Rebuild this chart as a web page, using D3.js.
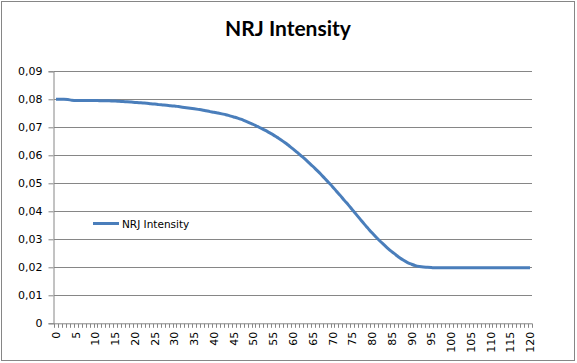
<!DOCTYPE html>
<html>
<head>
<meta charset="utf-8">
<script src="https://cdn.jsdelivr.net/npm/d3@7"></script>
<style>
    body { margin: 0; background: #fff; }
    svg { display: block; }
    text { font-family: "DejaVu Sans", Verdana, sans-serif; fill: #000; }
</style>
</head>
<body>
<div id="chart"></div>
<script>
// chart data
const title = "NRJ Intensity";
const seriesName = "NRJ Intensity";
const categories = d3.range(0, 121);
const intensity = [
    0.0800, 0.0800, 0.0800, 0.0799, 0.0797, 0.0796, 0.0796, 0.0796, 0.0796, 0.0796,
    0.0796, 0.0795, 0.0795, 0.0795, 0.0794, 0.0794, 0.0793, 0.0792, 0.0791, 0.0790,
    0.0789, 0.0788, 0.0787, 0.0786, 0.0784, 0.0783, 0.0781, 0.0780, 0.0779, 0.0777,
    0.0776, 0.0774, 0.0772, 0.0770, 0.0768, 0.0766, 0.0764, 0.0762, 0.0759, 0.0756,
    0.0754, 0.0751, 0.0748, 0.0745, 0.0741, 0.0737, 0.0733, 0.0728, 0.0722, 0.0716,
    0.0710, 0.0703, 0.0696, 0.0689, 0.0681, 0.0673, 0.0664, 0.0655, 0.0645, 0.0634,
    0.0623, 0.0611, 0.0599, 0.0587, 0.0574, 0.0561, 0.0547, 0.0533, 0.0518, 0.0503,
    0.0488, 0.0472, 0.0456, 0.0439, 0.0423, 0.0406, 0.0389, 0.0372, 0.0355, 0.0339,
    0.0323, 0.0308, 0.0294, 0.0281, 0.0268, 0.0256, 0.0245, 0.0234, 0.0225, 0.0217,
    0.0211, 0.0206, 0.0203, 0.0201, 0.0200, 0.0199, 0.0198, 0.0198, 0.0198, 0.0198,
    0.0198, 0.0198, 0.0198, 0.0198, 0.0198, 0.0198, 0.0198, 0.0198, 0.0198, 0.0198,
    0.0198, 0.0198, 0.0198, 0.0198, 0.0198, 0.0198, 0.0198, 0.0198, 0.0198, 0.0198,
    0.0198];
const yTicks = [0, 0.01, 0.02, 0.03, 0.04, 0.05, 0.06, 0.07, 0.08, 0.09];
const yTickLabels = ["0", "0,01", "0,02", "0,03", "0,04", "0,05", "0,06", "0,07", "0,08", "0,09"];
const xLabelStep = 5;

const width = 577, height = 363;
const plot = {left: 54, right: 532, top: 71.3, bottom: 323.3};
const gridColor = "#868686";
const lineColor = "#4a7ebb";

let svg = d3.select("#chart")
    .append("svg")
    .attr("width", width)
    .attr("height", height);

// outer chart border
svg.append("rect")
    .attr("x", 1.5)
    .attr("y", 1.5)
    .attr("width", 573)
    .attr("height", 359)
    .style("fill", "white")
    .style("stroke", gridColor)
    .style("stroke-width", 1);

svg.append("text")
    .attr("x", 288)
    .attr("y", 36)
    .attr("text-anchor", "middle")
    .style("font-family", "Lato, 'Open Sans', sans-serif")
    .style("font-weight", "bold")
    .style("font-size", "21px")
    .text(title);

let x = d3.scaleBand()
    .domain(categories)
    .range([plot.left, plot.right])
    .padding(0);

let y = d3.scaleLinear()
    .domain([0, 0.09])
    .range([plot.bottom, plot.top]);

// horizontal gridlines
svg.append("g")
    .selectAll("line")
    .data(yTicks.slice(1))
    .enter()
    .append("line")
    .attr("x1", plot.left)
    .attr("x2", plot.right)
    .attr("y1", d => Math.round(y(d)) + 0.5)
    .attr("y2", d => Math.round(y(d)) + 0.5)
    .style("stroke", gridColor)
    .style("stroke-width", 1);

// y axis
let yAxis = svg.append("g")
    .attr("transform", "translate(" + (plot.left - 0.5) + ",0)")
    .call(d3.axisLeft(y)
        .tickValues(yTicks)
        .tickSize(5)
        .tickPadding(6)
        .tickFormat((d, i) => yTickLabels[i]));

yAxis.select(".domain").style("stroke", gridColor);
yAxis.selectAll(".tick line").style("stroke", gridColor);
yAxis.selectAll(".tick text")
    .style("font-family", "'DejaVu Sans', Verdana, sans-serif")
    .style("font-size", "11px");

// x axis: one tick per category boundary, label every 5
let xg = svg.append("g")
    .attr("transform", "translate(0," + (plot.bottom + 0.5) + ")");

xg.append("line")
    .attr("x1", plot.left - 0.5)
    .attr("x2", plot.right + 0.5)
    .attr("y1", 0)
    .attr("y2", 0)
    .style("stroke", gridColor);

xg.selectAll("line.tick")
    .data(categories.concat([null]))
    .enter()
    .append("line")
    .attr("class", "tick")
    .attr("x1", d => Math.round(d === null ? x.range()[1] : x(d)) + 0.5)
    .attr("x2", d => Math.round(d === null ? x.range()[1] : x(d)) + 0.5)
    .attr("y1", 0)
    .attr("y2", 4)
    .style("stroke", gridColor);

xg.selectAll("text")
    .data(categories.filter(d => d % xLabelStep === 0))
    .enter()
    .append("text")
    .attr("transform", d => "translate(" + (x(d) + x.bandwidth() / 2 + 4) + ",8) rotate(-90)")
    .attr("text-anchor", "end")
    .style("font-size", "11px")
    .text(d => d);

// series line
let line = d3.line()
    .x((d, i) => x(categories[i]) + x.bandwidth() / 2)
    .y(d => y(d))
    .curve(d3.curveMonotoneX);

svg.append("path")
    .datum(intensity)
    .attr("d", line)
    .style("fill", "none")
    .style("stroke", lineColor)
    .style("stroke-width", 3)
    .style("stroke-linejoin", "round");

// legend
let legend = svg.append("g")
    .attr("transform", "translate(93,223.5)");

legend.append("line")
    .attr("x1", 0)
    .attr("x2", 26)
    .attr("y1", 0)
    .attr("y2", 0)
    .style("stroke", lineColor)
    .style("stroke-width", 3);

legend.append("text")
    .attr("x", 29)
    .attr("y", 4)
    .style("font-size", "10.5px")
    .text(seriesName);
</script>
</body>
</html>
